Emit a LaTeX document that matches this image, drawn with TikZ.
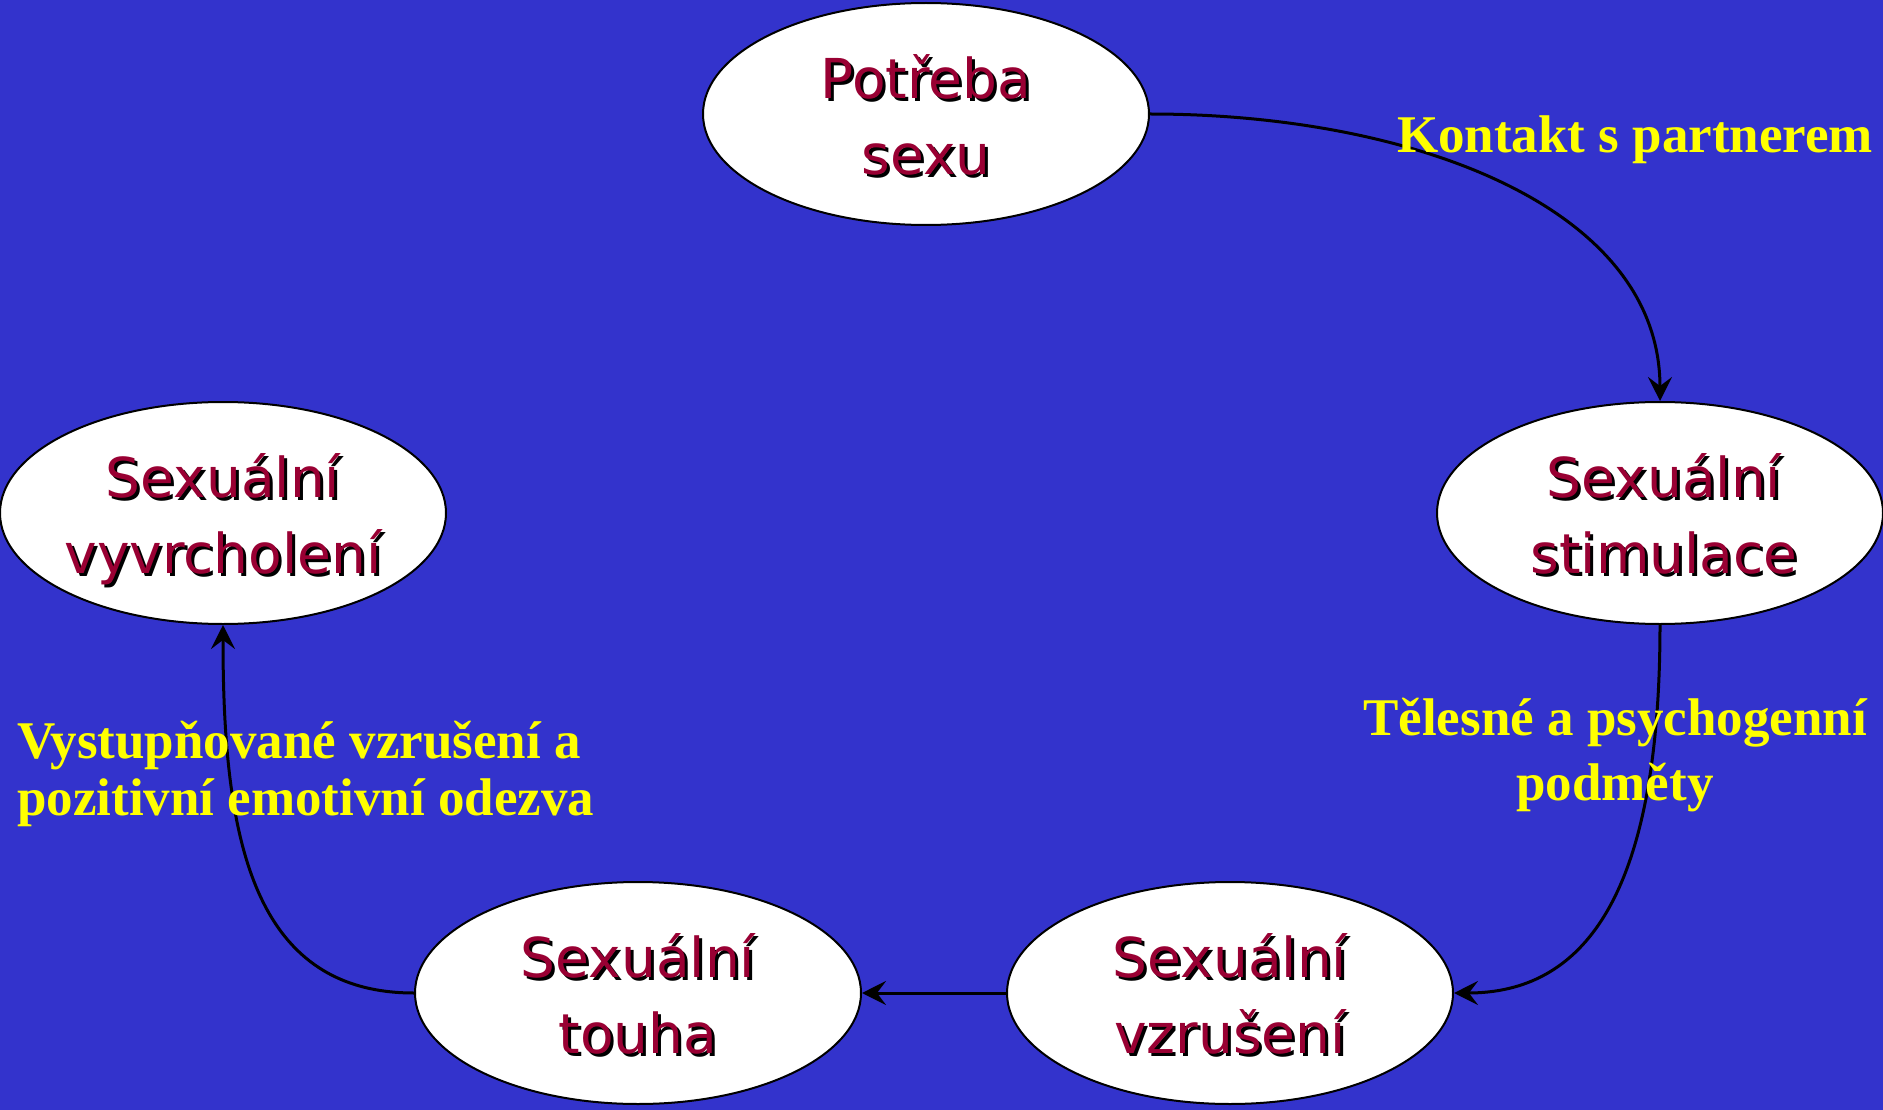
\documentclass[tikz,border=0pt]{standalone}
\usepackage{fontspec}
\setmainfont{Liberation Serif}
\newfontfamily\ellfont{DejaVu Sans}
\usetikzlibrary{shapes.geometric,arrows.meta}
\definecolor{bgblue}{RGB}{51,51,204}
\definecolor{nodered}{RGB}{153,0,51}
\definecolor{labyellow}{RGB}{255,255,0}
\newcommand\twoline[2]{\begin{tabular}{@{}c@{}}#1\\#2\end{tabular}}
\newcommand\shtext[2]{\leavevmode\rlap{\kern3pt\raisebox{-3pt}{\color{black}\twoline{#1}{#2}}}{\color{nodered}\twoline{#1}{#2}}}
\begin{document}
\begin{tikzpicture}[x=1pt,y=-1pt,
  ell/.style={ellipse, draw=black, line width=2pt, fill=white, minimum width=446pt, minimum height=222pt, inner sep=0pt},
  etext/.style={font=\ellfont\fontsize{55}{76}\selectfont, inner sep=0pt, yshift=-9pt},
  conn/.style={line width=3pt, -{Stealth[length=24pt,width=24pt,inset=9pt]}},
  lab/.style={font=\bfseries\fontsize{53}{65}\selectfont, text=labyellow, inner sep=0pt}]
\fill[bgblue] (0,0) rectangle (1883,1110);
\useasboundingbox (0,0) rectangle (1883,1110);

\node[ell] (pot) at (926,114) {};
\node[etext] (pot-t) at (pot) {\shtext{Potřeba}{sexu}};
\node[ell] (stim) at (1660,513) {};
\node[etext, xshift=4pt] (stim-t) at (stim) {\shtext{Sexuální}{stimulace}};
\node[ell] (vyv) at (223,513) {};
\node[etext] (vyv-t) at (vyv) {\shtext{Sexuální}{vyvrcholení}};
\node[ell] (tou) at (638,993) {};
\node[etext] (tou-t) at (tou) {\shtext{Sexuální}{touha}};
\node[ell] (vzr) at (1230,993) {};
\node[etext] (vzr-t) at (vzr) {\shtext{Sexuální}{vzrušení}};

\draw[conn] (pot.east) .. controls +(260,0) and +(0,-195) .. (stim.north);
\draw[conn] (stim.south) .. controls +(0,276) and +(127,0) .. (vzr.east);
\draw[conn] (vzr.west) -- (tou.east);
\draw[conn] (tou.west) .. controls +(-165,0) and +(0,206) .. (vyv.south);

\node[lab, anchor=base] (l1) at (1635,153) {Kontakt s partnerem};
\node[lab, align=center] (l2) at (1615,755) {Tělesné a psychogenní\\podměty};
\node[lab, align=left, anchor=west, font=\bfseries\fontsize{53}{57}\selectfont] (l3) at (17,774) {Vystupňované vzrušení a\\pozitivní emotivní odezva};
\end{tikzpicture}
\end{document}
